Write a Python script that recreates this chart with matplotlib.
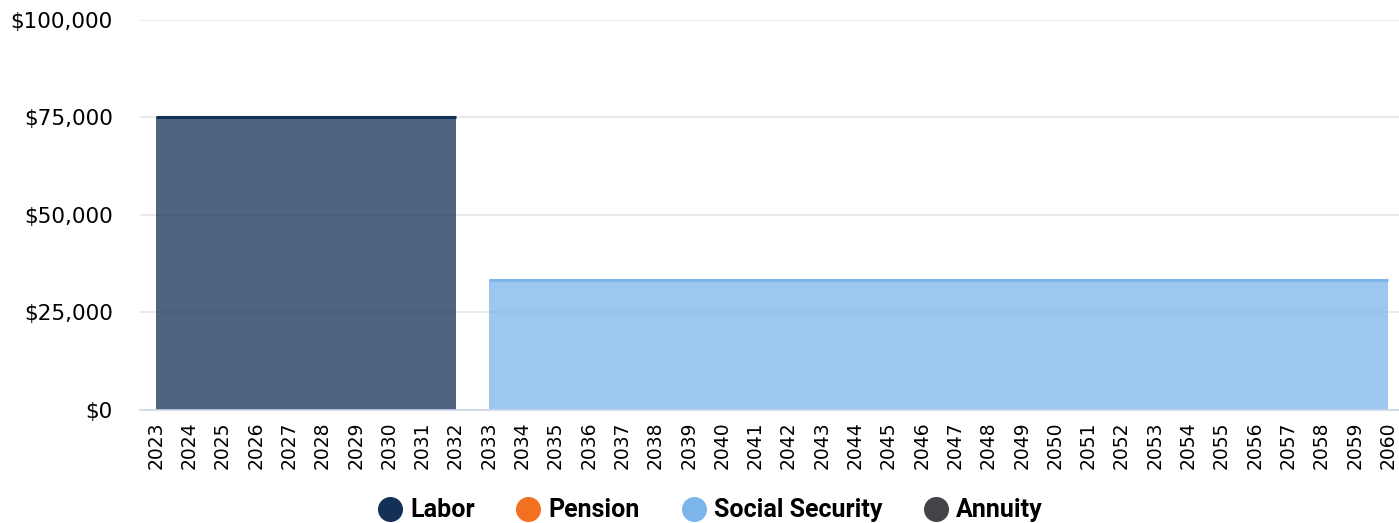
import numpy as np
import matplotlib.pyplot as plt
from matplotlib.lines import Line2D
from matplotlib.ticker import FuncFormatter

years = list(range(2023, 2061))
labor = [75000] * 10 + [None] * 28
pension = [None] * 38
social_security = [None] * 10 + [33300] * 28
annuity = [None] * 38

series = [
    ("Labor", labor, "#143056"),
    ("Pension", pension, "#f37021"),
    ("Social Security", social_security, "#7cb5ec"),
    ("Annuity", annuity, "#434348"),
]

fig = plt.figure(figsize=(13.99, 5.23), dpi=100)
ax = fig.add_axes([0.1, 0.216, 0.9, 0.746])

x = np.array(years, dtype=float)
base = np.zeros(len(years))
for name, vals, color in series:
    v = np.array([np.nan if a is None else a for a in vals], dtype=float)
    top = base + v
    if not np.all(np.isnan(v)):
        ax.fill_between(x, base, top, color=color, alpha=0.75, lw=0, zorder=2)
        ax.plot(x, top, color=color, lw=2.2, zorder=3, solid_capstyle="butt")
    base = base + np.nan_to_num(v)

ax.set_xlim(2022.52, 2060.33)
ax.set_ylim(0, 100000)
ax.set_yticks([0, 25000, 50000, 75000, 100000])
ax.yaxis.set_major_formatter(FuncFormatter(lambda v, p: f"${v:,.0f}"))
ax.set_xticks(years)
ax.set_xticklabels([str(y) for y in years], rotation=90, fontsize=13.5)
ax.tick_params(axis="y", labelsize=15.5, length=0, pad=19.5)
ax.tick_params(axis="x", length=0, pad=8)
ax.grid(axis="y", color="#e6e6e6", lw=1.2, zorder=0)
ax.set_axisbelow(True)
for s in ["top", "right", "left"]:
    ax.spines[s].set_visible(False)
ax.spines["bottom"].set_color("#ccd6eb")
ax.spines["bottom"].set_linewidth(1.2)

handles = [Line2D([], [], ls="none", marker="o", markersize=17, color=c) for _, _, c in series]
fig.legend(handles, [n for n, _, _ in series], loc="center", bbox_to_anchor=(0.507, 0.024),
           ncol=4, frameon=False, handlelength=1.1, handletextpad=0.25, columnspacing=1.6,
           prop={"family": "Roboto", "weight": "bold", "size": 18})

fig.savefig("out.png", dpi=100)
